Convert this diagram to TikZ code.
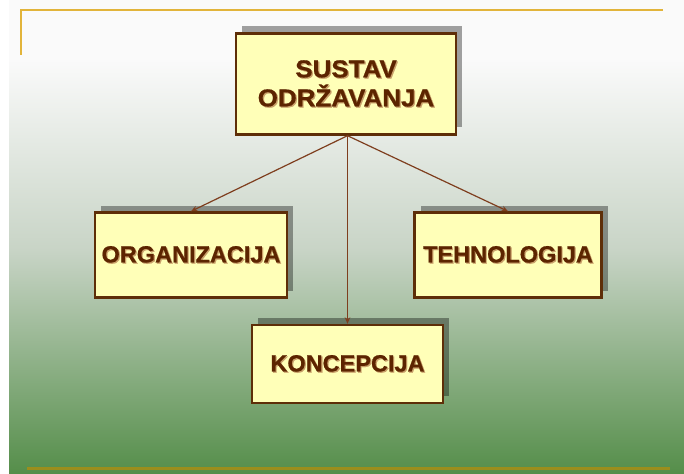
\documentclass[tikz,border=0pt]{standalone}
\usepackage{fontspec}
\setmainfont{Liberation Sans}
\newfontfamily\boxfont[FakeBold=0.7]{Liberation Sans Bold}
\usepackage{graphicx}
\usetikzlibrary{arrows.meta,shadows}
\definecolor{bgmid}{HTML}{C8D4C6}
\definecolor{bggreen}{HTML}{558E4A}
\definecolor{goldtop}{HTML}{E2B43A}
\definecolor{goldbot}{HTML}{9A8E1C}
\definecolor{boxfill}{HTML}{FFFFB8}
\definecolor{boxline}{HTML}{5E2E08}
\definecolor{txtcol}{HTML}{5C2400}
\definecolor{txtsh}{HTML}{C9A06A}
\definecolor{arrcol}{HTML}{7E3E1E}
\newcommand\shtxt[1]{\rlap{\kern1.2pt\raisebox{-1.2pt}{\color{txtsh}#1}}#1}
\tikzset{
  boxnode/.style={draw=boxline, line width=2.4pt, fill=boxfill, inner sep=0pt,
    text=txtcol, font=\boxfont\fontsize{23.5}{29}\selectfont, align=center,
    drop shadow={shadow xshift=6pt, shadow yshift=7pt, fill=black, opacity=0.36}},
  arr/.style={draw=arrcol, line width=1.2pt, -{Stealth[length=6.5pt,width=5.5pt]}},
}
\begin{document}
\begin{tikzpicture}[x=1pt,y=-1pt]
\useasboundingbox (0,0) rectangle (684,473);
% background
\fill[white] (0,0) rectangle (684,473);
\fill[white!98!black] (9,0) rectangle (684,61);
\shade[top color=white!98!black, bottom color=bgmid] (9,60) rectangle (684,250.5);
\shade[top color=bgmid, bottom color=bggreen] (9,250) rectangle (684,473);
% gold lines
\draw[goldtop, line width=2pt] (21,55) -- (21,10) -- (663,10);
\draw[goldbot, line width=3pt] (27,468) -- (670,468);
% boxes
\node[boxnode, minimum width=220, minimum height=101,
  font=\boxfont\fontsize{24.5}{29}\selectfont] (sustav) at (346,84)
  {\scalebox{1.06}[1]{\shtxt{SUSTAV}}\\\scalebox{1.06}[1]{\shtxt{ODRŽAVANJA}}};
\node[boxnode, minimum width=192, minimum height=85] (org) at (191,255) {\shtxt{ORGANIZACIJA}};
\node[boxnode, minimum width=187, minimum height=85] (teh) at (508,255) {\shtxt{TEHNOLOGIJA}};
\node[boxnode, minimum width=191, minimum height=78] (kon) at (347.5,364) {\shtxt{KONCEPCIJA}};
% connectors
\coordinate (src) at ([xshift=1.5pt]sustav.south);
\draw[arr] (src) -- (org.north);
\draw[arr] (src) -- (teh.north);
\draw[arr] (src) -- (kon.north);
\end{tikzpicture}
\end{document}
